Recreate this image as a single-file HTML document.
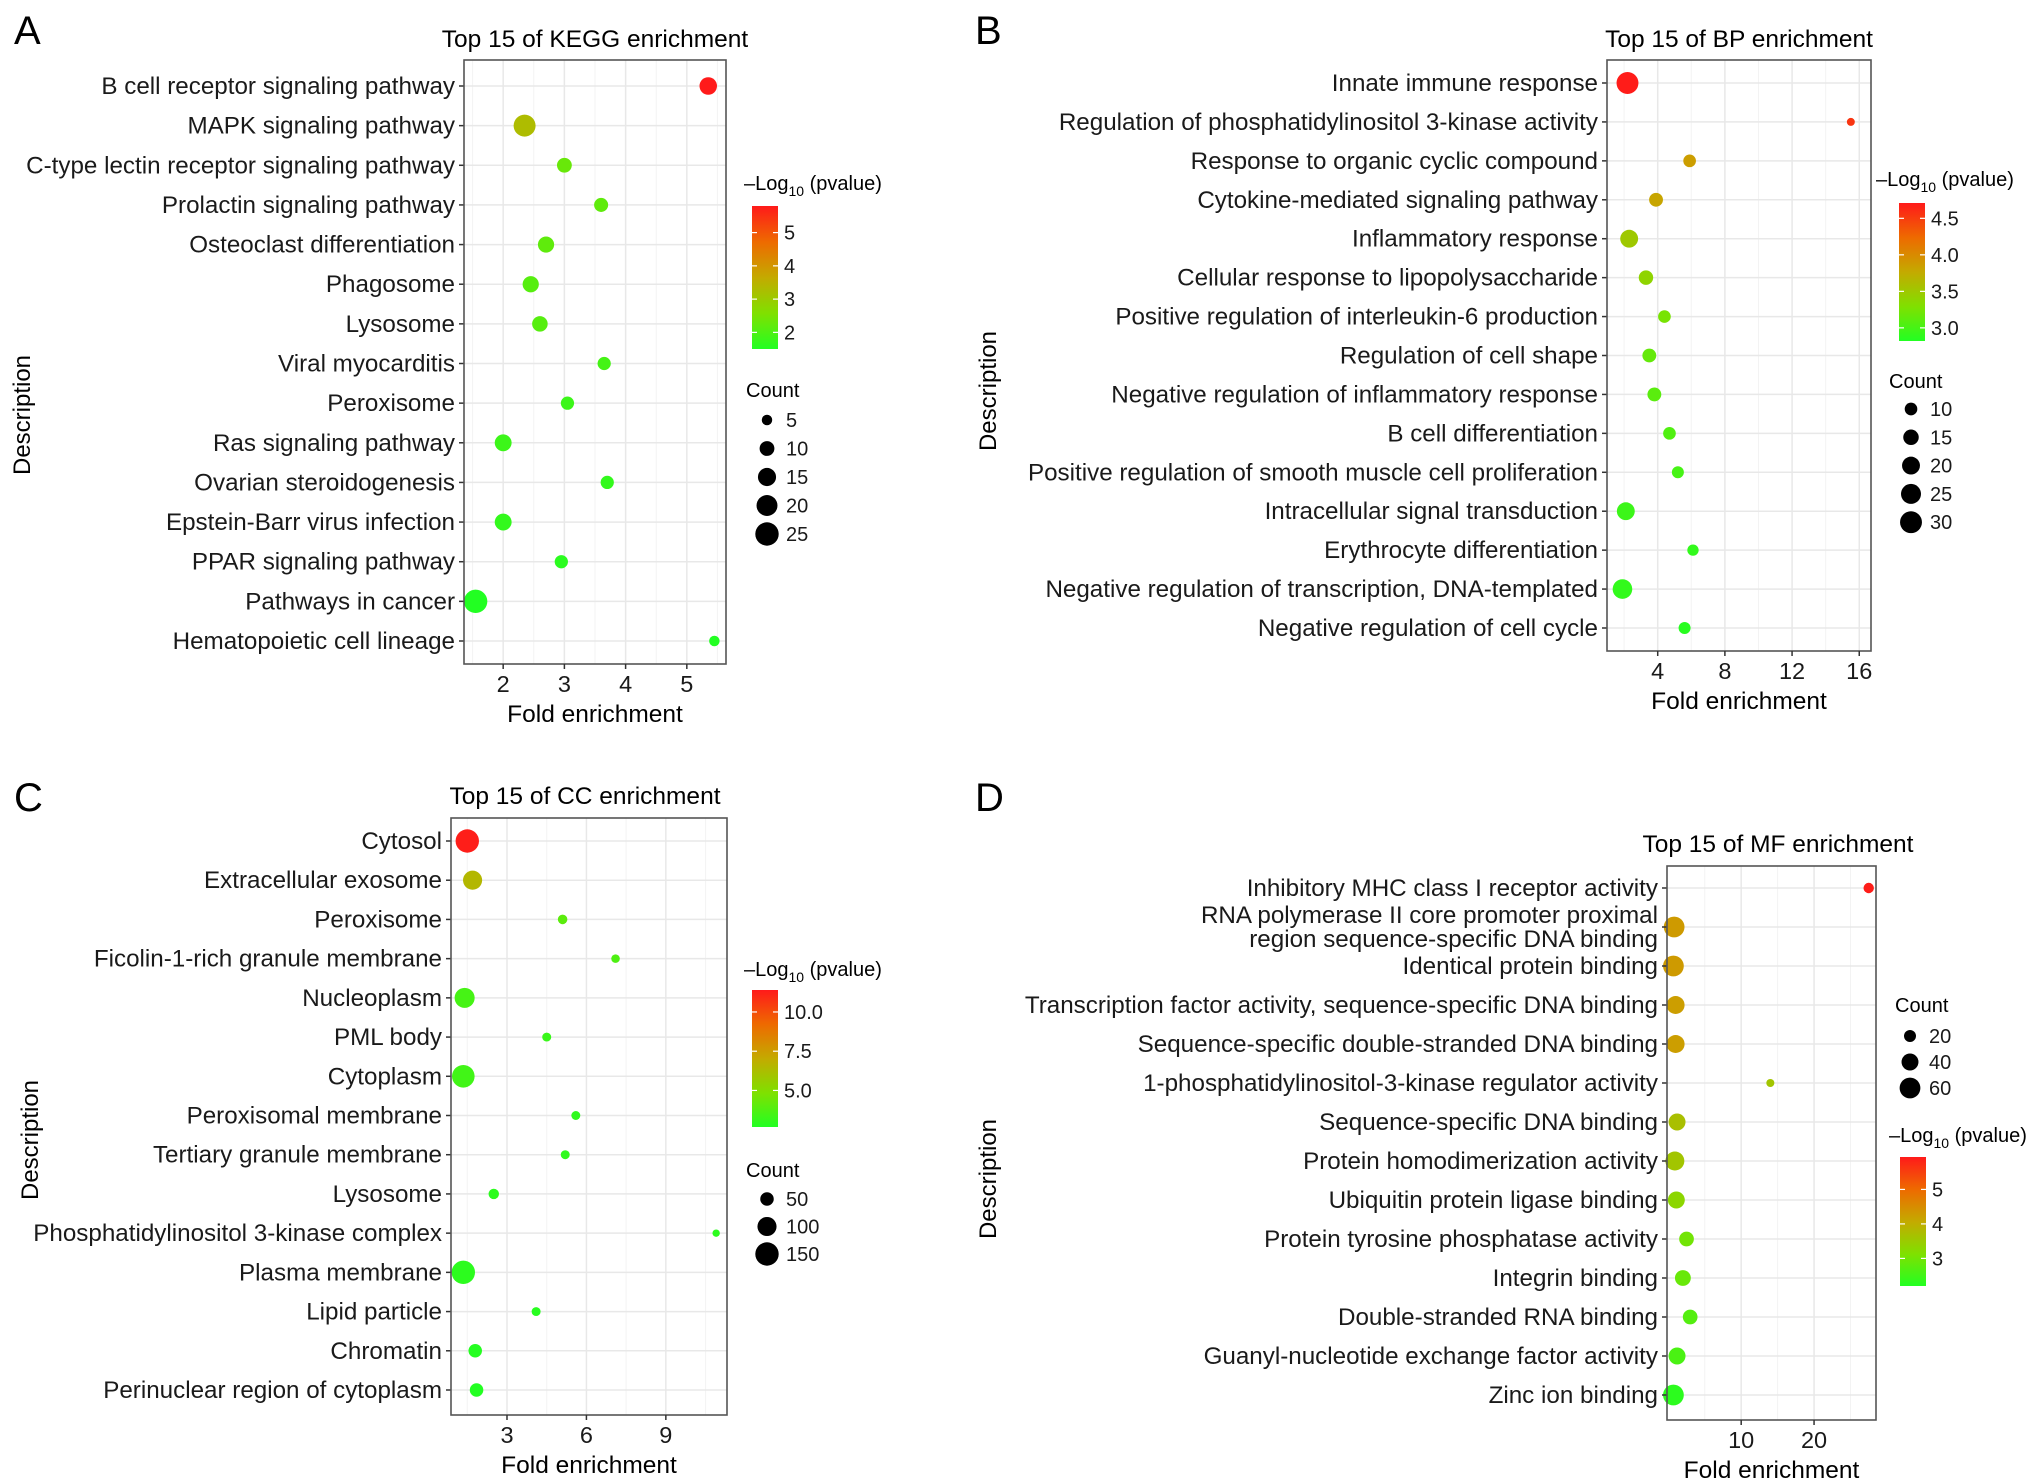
<!DOCTYPE html>
<html><head><meta charset="utf-8">
<style>
html,body{margin:0;padding:0;background:#fff;}
svg{display:block;font-family:"Liberation Sans",Arial,sans-serif;}
</style></head>
<body>
<svg id="fig" width="2032" height="1484" viewBox="0 0 2032 1484" xmlns="http://www.w3.org/2000/svg">
<defs>
<linearGradient id="cgrad" x1="0" y1="1" x2="0" y2="0">
<stop offset="0" stop-color="#22ff22"/>
<stop offset="0.25" stop-color="#80e000"/>
<stop offset="0.5" stop-color="#c4aa00"/>
<stop offset="0.75" stop-color="#ee6a00"/>
<stop offset="1" stop-color="#ff1a1a"/>
</linearGradient>
</defs>
</svg>
<script>
// ---------- Panel A: KEGG ----------
const aLabels=["B cell receptor signaling pathway","MAPK signaling pathway","C-type lectin receptor signaling pathway","Prolactin signaling pathway","Osteoclast differentiation","Phagosome","Lysosome","Viral myocarditis","Peroxisome","Ras signaling pathway","Ovarian steroidogenesis","Epstein-Barr virus infection","PPAR signaling pathway","Pathways in cancer","Hematopoietic cell lineage"];
const aFold=[5.35,2.35,3.0,3.6,2.7,2.45,2.6,3.65,3.05,2.0,3.7,2.0,2.95,1.55,5.45];
const aLogp=[5.8,3.3,2.3,2.2,2.2,2.1,2.1,1.9,1.8,1.8,1.7,1.7,1.6,1.5,1.5];
const aCount=[14,22,10,9,12,12,11,8,8,13,8,13,8,25,5];
const aXTicks=[2,3,4,5];
const aCTicks=[5,4,3,2];
const aSTicks=[5,10,15,20,25];
// ---------- Panel B: BP ----------
const bLabels=["Innate immune response","Regulation of phosphatidylinositol 3-kinase activity","Response to organic cyclic compound","Cytokine-mediated signaling pathway","Inflammatory response","Cellular response to lipopolysaccharide","Positive regulation of interleukin-6 production","Regulation of cell shape","Negative regulation of inflammatory response","B cell differentiation","Positive regulation of smooth muscle cell proliferation","Intracellular signal transduction","Erythrocyte differentiation","Negative regulation of transcription, DNA-templated","Negative regulation of cell cycle"];
const bFold=[2.2,15.5,5.9,3.9,2.3,3.3,4.4,3.5,3.8,4.7,5.2,2.1,6.1,1.9,5.6];
const bLogp=[4.7,4.55,3.85,3.8,3.5,3.4,3.25,3.15,3.1,3.05,3.0,2.95,2.9,2.9,2.85];
const bCount=[30,4,10,12,20,13,10,12,12,10,9,20,8,24,9];
const bXTicks=[4,8,12,16];
const bCTicks=[4.5,4.0,3.5,3.0];
const bSTicks=[10,15,20,25,30];
// ---------- Panel C: CC ----------
const cLabels=["Cytosol","Extracellular exosome","Peroxisome","Ficolin-1-rich granule membrane","Nucleoplasm","PML body","Cytoplasm","Peroxisomal membrane","Tertiary granule membrane","Lysosome","Phosphatidylinositol 3-kinase complex","Plasma membrane","Lipid particle","Chromatin","Perinuclear region of cytoplasm"];
const cFold=[1.5,1.7,5.1,7.1,1.4,4.5,1.35,5.6,5.2,2.5,10.9,1.35,4.1,1.8,1.85];
const cLogp=[11.3,6.5,4.0,3.7,3.5,3.2,3.4,3.0,3.0,2.9,2.9,2.9,2.8,2.75,2.7];
const cCount=[150,100,25,20,110,22,140,22,22,30,15,150,22,50,50];
const cXTicks=[3,6,9];
const cCTicks=[10.0,7.5,5.0];
const cSTicks=[50,100,150];
// ---------- Panel D: MF ----------
const dLabels=["Inhibitory MHC class I receptor activity","RNA polymerase II core promoter proximal|region sequence-specific DNA binding","Identical protein binding","Transcription factor activity, sequence-specific DNA binding","Sequence-specific double-stranded DNA binding","1-phosphatidylinositol-3-kinase regulator activity","Sequence-specific DNA binding","Protein homodimerization activity","Ubiquitin protein ligase binding","Protein tyrosine phosphatase activity","Integrin binding","Double-stranded RNA binding","Guanyl-nucleotide exchange factor activity","Zinc ion binding"];
const dFold=[27.5,0.8,0.7,1.0,1.0,14,1.2,0.9,1.1,2.5,2.0,3.0,1.2,0.7];
const dLogp=[5.9,4.3,4.3,4.25,4.25,3.6,3.7,3.6,3.3,3.0,2.9,2.7,2.6,2.3];
const dCount=[15,60,60,45,45,9,40,50,40,30,35,30,40,60];
const dXTicks=[10,20];
const dCTicks=[5,4,3];
const dSTicks=[20,40,60];

const NS="http://www.w3.org/2000/svg";
const svg=document.getElementById('fig');
function mk(tag,attrs,parent,text){const e=document.createElementNS(NS,tag);for(const k in attrs)e.setAttribute(k,attrs[k]);if(text!==undefined)e.textContent=text;(parent||svg).appendChild(e);return e;}
const stops=[[0,[34,255,34]],[0.25,[128,224,0]],[0.5,[196,170,0]],[0.75,[238,106,0]],[1,[255,26,26]]];
function colorAt(t){t=Math.max(0,Math.min(1,t));for(let i=1;i<stops.length;i++){if(t<=stops[i][0]){const a=stops[i-1],b=stops[i];const f=(t-a[0])/(b[0]-a[0]);const c=a[1].map((v,j)=>Math.round(v+(b[1][j]-v)*f));return `rgb(${c[0]},${c[1]},${c[2]})`;}}return 'rgb(255,26,26)';}

function panel(P){
  const g=mk('g',{});
  
  
  const xs=v=>P.x0+(v-P.xmin)/(P.xmax-P.xmin)*(P.x1-P.x0);
  const n=P.labels.length;
  const ys=i=>P.yFirst+i*(P.yLast-P.yFirst)/(n-1);
  const rs=c=>P.rk*Math.sqrt(c);
  mk('rect',{x:P.x0,y:P.y0,width:P.x1-P.x0,height:P.y1-P.y0,fill:'#fff'},g);
  for(let i=0;i<P.xticks.length-1;i++){const m=(P.xticks[i]+P.xticks[i+1])/2;mk('line',{x1:xs(m),x2:xs(m),y1:P.y0,y2:P.y1,stroke:'#f3f3f3','stroke-width':1},g);}
  const st=P.xticks[1]-P.xticks[0];
  [P.xticks[0]-st/2,P.xticks[P.xticks.length-1]+st/2].forEach(m=>{if(m>P.xmin&&m<P.xmax)mk('line',{x1:xs(m),x2:xs(m),y1:P.y0,y2:P.y1,stroke:'#f3f3f3','stroke-width':1},g);});
  P.xticks.forEach(t=>{const l=mk('line',{x1:xs(t),x2:xs(t),y1:P.y0,y2:P.y1,stroke:'#e8e8e8','stroke-width':1.5},g);});
  for(let i=0;i<n;i++)mk('line',{x1:P.x0,x2:P.x1,y1:ys(i),y2:ys(i),stroke:'#e8e8e8','stroke-width':1.5},g);
  for(let i=0;i<n;i++){
    const t=(P.logp[i]-P.cmin)/(P.cmax-P.cmin);
    const c=mk('circle',{cx:xs(P.fold[i]),cy:ys(i),r:rs(P.count[i]),fill:colorAt(t)},g);
    
    
    mk('line',{x1:P.x0-5,x2:P.x0,y1:ys(i),y2:ys(i),stroke:'#333','stroke-width':1.5},g);
    const parts=P.labels[i].split('|');
    const lt=mk('text',{x:P.x0-9,y:ys(i)+8-(parts.length-1)*12,'text-anchor':'end','font-size':24.2,fill:'#1a1a1a'},g);
    
    
    parts.forEach((p,k)=>mk('tspan',{x:P.x0-9,dy:k?24:0},lt,p));
  }
  mk('rect',{x:P.x0,y:P.y0,width:P.x1-P.x0,height:P.y1-P.y0,fill:'none',stroke:'#555','stroke-width':1.6},g);
  P.xticks.forEach(t=>{mk('line',{x1:xs(t),x2:xs(t),y1:P.y1,y2:P.y1+5,stroke:'#333','stroke-width':1.5},g);
    const tl=mk('text',{x:xs(t),y:P.y1+28,'text-anchor':'middle','font-size':23.5,fill:'#1a1a1a'},g,String(t));
    });
  const xt=mk('text',{x:(P.x0+P.x1)/2,y:P.y1+58,'text-anchor':'middle','font-size':24.5,fill:'#000'},g,'Fold enrichment');
  
  const tt=mk('text',{x:P.titleX,y:P.titleY,'text-anchor':'middle','font-size':24.5,fill:'#000'},g,P.title);
  
  const yt=mk('text',{x:P.descX,y:P.descY,'text-anchor':'middle','font-size':24,fill:'#000',transform:`rotate(-90 ${P.descX} ${P.descY})`},g,'Description');
  
  const lt=mk('text',{x:P.letterX,y:P.letterY,'font-size':40,fill:'#000'},g,P.letter);
  
  const cb=mk('g',{},g);
  
  const ct=mk('text',{x:P.cbTitleX,y:P.cbTitleY,'font-size':20,fill:'#000'},cb,'\u2013Log');
  mk('tspan',{'font-size':14,dy:6},ct,'10');
  mk('tspan',{dy:-6},ct,' (pvalue)');
  mk('rect',{x:P.cbX,y:P.cbY0,width:26,height:P.cbY1-P.cbY0,fill:'url(#cgrad)'},cb);
  const cys=v=>P.cbY1-(v-P.cmin)/(P.cmax-P.cmin)*(P.cbY1-P.cbY0);
  P.cticks.forEach(t=>{mk('line',{x1:P.cbX,x2:P.cbX+5,y1:cys(t),y2:cys(t),stroke:'#fff','stroke-width':1.2},cb);mk('line',{x1:P.cbX+21,x2:P.cbX+26,y1:cys(t),y2:cys(t),stroke:'#fff','stroke-width':1.2},cb);
    mk('text',{x:P.cbX+32,y:cys(t)+7,'font-size':20,fill:'#1a1a1a'},cb,P.cdec?t.toFixed(1):String(t));});
  const sl=mk('g',{},g);
  
  mk('text',{x:P.slTitleX,y:P.slTitleY,'font-size':20,fill:'#000'},sl,'Count');
  P.sticks.forEach((s,k)=>{const y=P.slY0+k*P.slDy;mk('circle',{cx:P.slX,cy:y,r:rs(s),fill:'#000'},sl);mk('text',{x:P.slX+19,y:y+7,'font-size':20,fill:'#1a1a1a'},sl,String(s));});
}

panel({name:'panel-a-kegg',labels:aLabels,fold:aFold,logp:aLogp,count:aCount,xticks:aXTicks,cticks:aCTicks,sticks:aSTicks,
 x0:464,x1:726,y0:60,y1:664,yFirst:86,yLast:641,xmin:1.36,xmax:5.64,rk:2.34,cmin:1.5,cmax:5.8,
 title:'Top 15 of KEGG enrichment',titleX:595,titleY:47,descX:30,descY:415,letter:'A',letterX:14,letterY:44,
 cbTitleX:744,cbTitleY:190,cbX:752,cbY0:206,cbY1:349,cdec:false,slTitleX:746,slTitleY:397,slX:767,slY0:420,slDy:28.5});
panel({name:'panel-b-bp',labels:bLabels,fold:bFold,logp:bLogp,count:bCount,xticks:bXTicks,cticks:bCTicks,sticks:bSTicks,
 x0:1607,x1:1871,y0:60,y1:651,yFirst:83,yLast:628,xmin:0.98,xmax:16.7,rk:2.0,cmin:2.82,cmax:4.71,
 title:'Top 15 of BP enrichment',titleX:1739,titleY:47,descX:996,descY:391,letter:'B',letterX:975,letterY:44,
 cbTitleX:1876,cbTitleY:186,cbX:1899,cbY0:203,cbY1:341,cdec:true,slTitleX:1889,slTitleY:388,slX:1911,slY0:409,slDy:28.3});
panel({name:'panel-c-cc',labels:cLabels,fold:cFold,logp:cLogp,count:cCount,xticks:cXTicks,cticks:cCTicks,sticks:cSTicks,
 x0:451,x1:727,y0:818,y1:1415,yFirst:841,yLast:1390,xmin:0.885,xmax:11.31,rk:0.955,cmin:2.67,cmax:11.4,
 title:'Top 15 of CC enrichment',titleX:585,titleY:804,descX:38,descY:1140,letter:'C',letterX:14,letterY:811,
 cbTitleX:744,cbTitleY:976,cbX:752,cbY0:990,cbY1:1127,cdec:true,slTitleX:746,slTitleY:1177,slX:767,slY0:1199,slDy:27.5});
panel({name:'panel-d-mf',labels:dLabels,fold:dFold,logp:dLogp,count:dCount,xticks:dXTicks,cticks:dCTicks,sticks:dSTicks,
 x0:1667,x1:1876,y0:866,y1:1420,yFirst:888,yLast:1395,xmin:-0.18,xmax:28.5,rk:1.34,cmin:2.2,cmax:5.94,
 title:'Top 15 of MF enrichment',titleX:1778,titleY:852,descX:996,descY:1179,letter:'D',letterX:975,letterY:811,
 cbTitleX:1889,cbTitleY:1142,cbX:1900,cbY0:1157,cbY1:1286,cdec:false,slTitleX:1895,slTitleY:1012,slX:1910,slY0:1036,slDy:26});
</script>
</body></html>
